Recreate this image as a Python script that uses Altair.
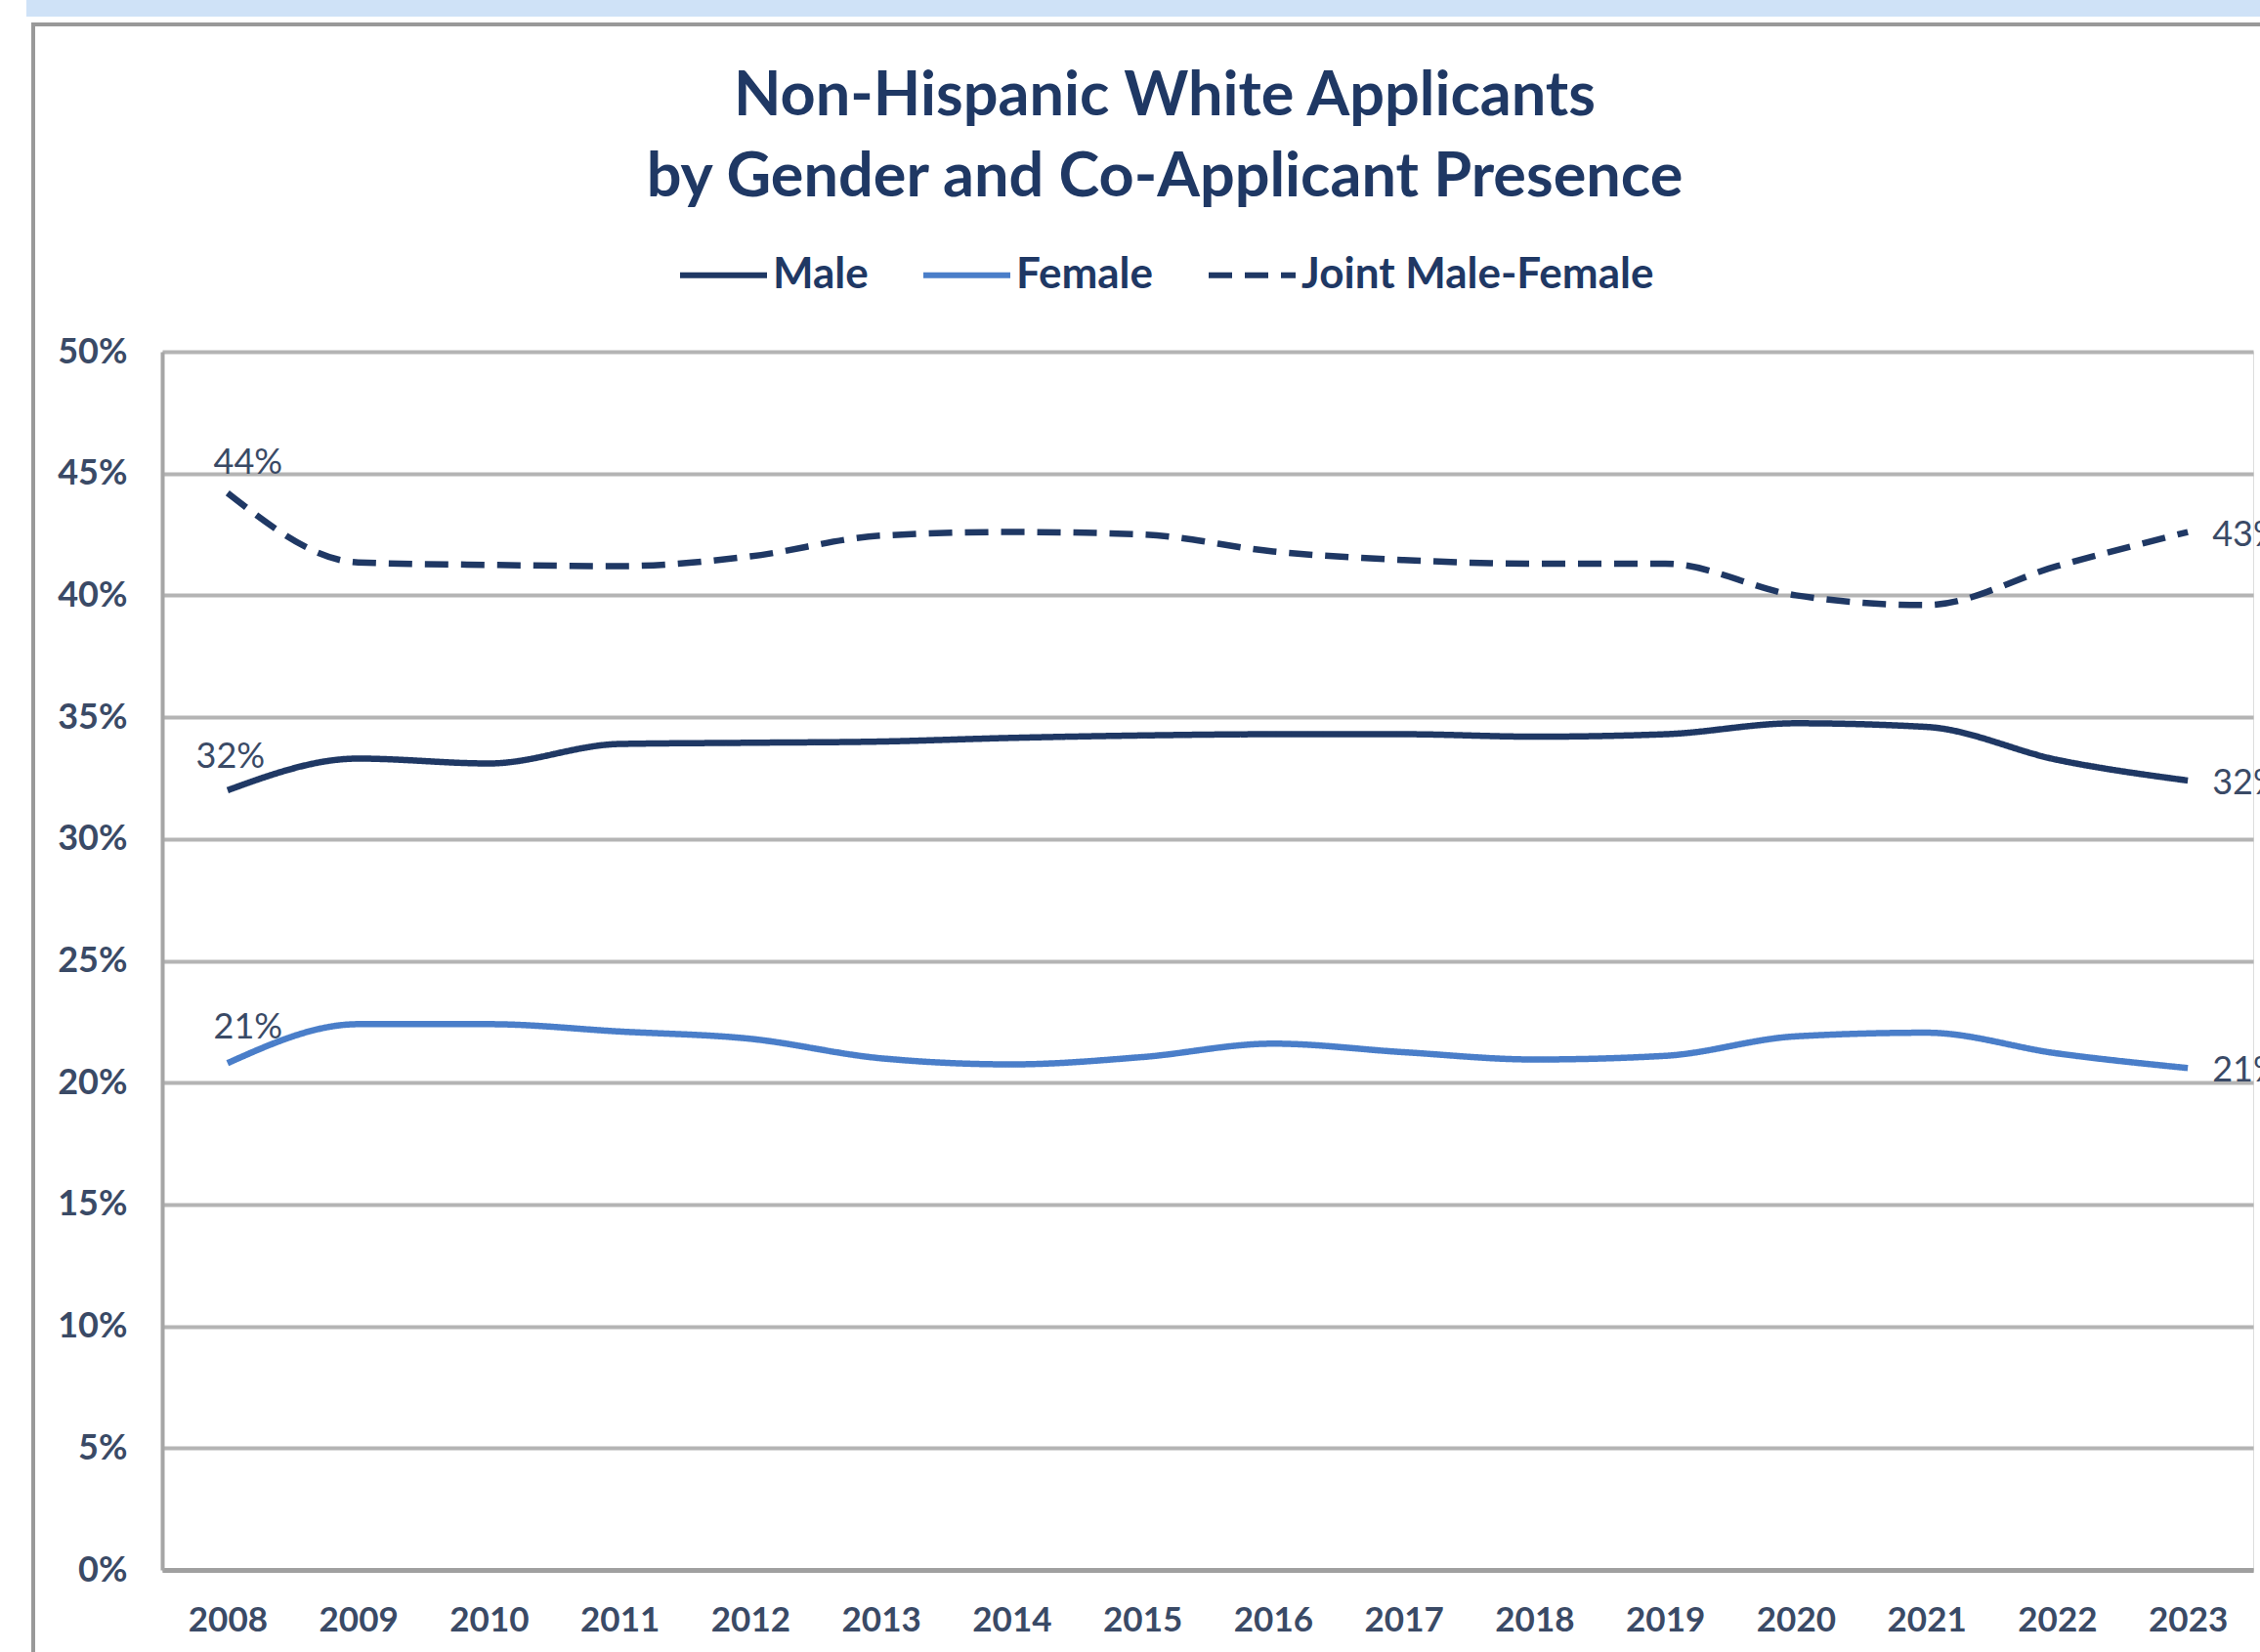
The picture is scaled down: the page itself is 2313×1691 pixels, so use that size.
import altair as alt
import pandas as pd

years = list(range(2008, 2024))
male = [32.0, 33.3, 33.1, 33.9, 33.95, 34.0, 34.15, 34.25, 34.3, 34.3, 34.2, 34.3, 34.75, 34.6, 33.25, 32.4]
female = [20.8, 22.4, 22.4, 22.1, 21.8, 21.0, 20.75, 21.05, 21.6, 21.25, 20.95, 21.1, 21.9, 22.05, 21.2, 20.6]
joint = [44.2, 41.35, 41.25, 41.2, 41.6, 42.45, 42.6, 42.5, 41.8, 41.45, 41.3, 41.3, 40.0, 39.6, 41.2, 42.6]
series = ["Male", "Female", "Joint Male-Female"]
y_ticks = [0, 5, 10, 15, 20, 25, 30, 35, 40, 45, 50]

rows = []
for name, vals in zip(series, [male, female, joint]):
    for yr, v in zip(years, vals):
        rows.append({"year": yr, "value": v, "series": name})
df = pd.DataFrame(rows)

W, H = 2140, 1247
FONT = "Lato"
NAVY = "#1F3864"
LABEL = "#3A4A66"

color_scale = alt.Scale(domain=series, range=["#1F3864", "#4A7EC9", "#1F3864"])
dash_scale = alt.Scale(domain=series, range=[[1, 0], [1, 0], [24, 13]])
legend = alt.Legend(
    title=None, orient="none", legendX=527, legendY=-126, direction="horizontal",
    symbolType="stroke", symbolSize=7921, symbolStrokeWidth=6,
    labelFont=FONT, labelFontSize=44, labelFontWeight="bold", labelColor=NAVY,
    labelOffset=3, columnPadding=44, labelLimit=0,
)

x_enc = alt.X(
    "year:O", title=None,
    axis=alt.Axis(labelAngle=0, ticks=False, domainColor="#A0A0A0", domainWidth=5,
                  labelFont=FONT, labelFontSize=35, labelFontWeight="bold",
                  labelColor=LABEL, labelPadding=34, grid=False),
)
y_enc = alt.Y(
    "value:Q", title=None, scale=alt.Scale(domain=[0, 50], nice=False),
    axis=alt.Axis(values=y_ticks, labelExpr="datum.value + '%'", ticks=False,
                  domainColor="#A6A6A6", domainWidth=4, gridColor="#B4B4B4", gridWidth=4,
                  labelPadding=36, labelFont=FONT, labelFontSize=36, labelFontWeight="bold",
                  labelColor=LABEL),
)

base = alt.Chart(df).encode(x=x_enc, y=y_enc)

lines = base.mark_line(strokeWidth=6.5, interpolate="monotone").encode(
    color=alt.Color("series:N", scale=color_scale, legend=legend),
    strokeDash=alt.StrokeDash("series:N", scale=dash_scale, legend=legend),
)

start_offsets = {"Joint Male-Female": (21, -31), "Male": (3, -34), "Female": (21, -36)}
label_layers = []
for name, (dx, dy) in start_offsets.items():
    label_layers.append(
        base.transform_filter(
            (alt.datum.year == years[0]) & (alt.datum.series == name)
        ).transform_calculate(
            lab="format(datum.value, '.0f') + '%'"
        ).mark_text(font=FONT, fontSize=36, color=LABEL, dx=dx, dy=dy, baseline="middle").encode(
            text="lab:N"
        )
    )
end_labels = base.transform_filter(alt.datum.year == years[-1]).transform_calculate(
    lab="format(datum.value, '.0f') + '%'"
).mark_text(font=FONT, fontSize=36, color=LABEL, dx=25, dy=3, align="left", baseline="middle").encode(
    text="lab:N"
)

deco = alt.Chart(pd.DataFrame({"k": [0]}))
banner = deco.mark_rect(color="#CFE2F7").encode(
    x=alt.value(-139), x2=alt.value(2147), y=alt.value(-360), y2=alt.value(-343)
)
frame_left = deco.mark_rule(color="#999999", strokeWidth=4).encode(
    x=alt.value(-132), y=alt.value(-337), y2=alt.value(1331)
)
frame_top = deco.mark_rule(color="#999999", strokeWidth=4).encode(
    x=alt.value(-134), x2=alt.value(2147), y=alt.value(-335)
)

chart = alt.layer(banner, frame_left, frame_top, lines, *label_layers, end_labels).properties(
    width=W, height=H,
    padding={"left": 166, "top": 360, "right": 7, "bottom": 84},
    autosize=alt.AutoSizeParams(type="none"),
    title=alt.TitleParams(
        text=["Non-Hispanic White Applicants", "by Gender and Co-Applicant Presence"],
        font=FONT, fontSize=63, fontWeight="bold", color=NAVY, lineHeight=83,
        anchor="middle", dx=-44, offset=-214,
    ),
).configure_view(stroke=None).configure(background="white")

chart.save("out.html", embed_options={"renderer": "svg", "actions": False})
